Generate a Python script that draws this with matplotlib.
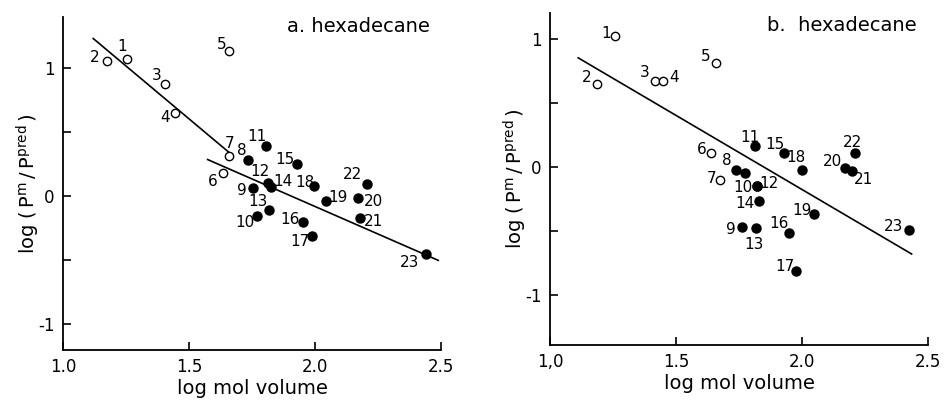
import matplotlib
matplotlib.use("Agg")
import matplotlib.pyplot as plt

# ---------------- data: panel a ----------------
a_open_ids = ["1", "2", "3", "4", "5", "6", "7"]
a_open_x = [1.253, 1.173, 1.405, 1.444, 1.660, 1.636, 1.660]
a_open_y = [1.070, 1.060, 0.880, 0.650, 1.135, 0.185, 0.315]

a_fill_ids = ["8", "9", "10", "11", "12", "13", "14", "15", "16", "17", "18",
              "19", "20", "21", "22", "23"]
a_fill_x = [1.733, 1.755, 1.768, 1.806, 1.812, 1.819, 1.824, 1.927, 1.951,
            1.990, 1.996, 2.044, 2.169, 2.179, 2.208, 2.439]
a_fill_y = [0.280, 0.068, -0.156, 0.393, 0.105, -0.104, 0.073, 0.250, -0.200,
            -0.310, 0.080, -0.037, -0.010, -0.170, 0.099, -0.453]

a_line1_x = [1.120, 1.663]
a_line1_y = [1.232, 0.336]
a_line2_x = [1.574, 2.489]
a_line2_y = [0.287, -0.500]

# ---------------- data: panel b ----------------
b_open_ids = ["1", "2", "3", "4", "5", "6", "7"]
b_open_x = [1.258, 1.188, 1.417, 1.450, 1.659, 1.638, 1.675]
b_open_y = [1.020, 0.644, 0.669, 0.669, 0.807, 0.111, -0.101]

b_fill_ids = ["8", "", "9", "10", "11", "12", "13", "14", "15", "16", "17",
              "18", "19", "20", "21", "22", "23"]
b_fill_x = [1.738, 1.775, 1.760, 1.820, 1.813, 1.820, 1.817, 1.828, 1.929,
            1.947, 1.976, 1.999, 2.049, 2.171, 2.200, 2.210, 2.425]
b_fill_y = [-0.026, -0.049, -0.472, -0.153, 0.163, -0.153, -0.480, -0.270,
            0.104, -0.514, -0.810, -0.023, -0.368, -0.013, -0.036, 0.104,
            -0.493]

b_line_x = [1.112, 2.435]
b_line_y = [0.850, -0.680]

x_ticks = [1.0, 1.5, 2.0, 2.5]
x_ticklabels = ["1.0", "1.5", "2.0", "2.5"]
b_x_ticklabels = ["1,0", "1.5", "2.0", "2.5"]
y_ticks = [-1.0, -0.5, 0.0, 0.5, 1.0]
y_ticklabels = ["-1", "", "0", "", "1"]

# label offsets (pixels, y up) -- layout only
a_open_off = {"1": (-5, 13), "2": (-12, 3), "3": (-8, 8), "4": (-10, -4),
              "5": (-8, 6), "6": (-11, -9), "7": (0, 12)}
a_fill_off = {"8": (-6, 10), "9": (-11, -3), "10": (-12, -6), "11": (-9, 9),
              "12": (-8, 11), "13": (-11, 8), "14": (12, 5), "15": (-12, 5),
              "16": (-13, 2), "17": (-13, -5), "18": (-9, 4), "19": (12, 4),
              "20": (16, -4), "21": (13, -3), "22": (-15, 9), "23": (-16, -8)}
b_open_off = {"1": (-9, 3), "2": (-11, 7), "3": (-10, 9), "4": (11, 4),
              "5": (-10, 7), "6": (-9, 3), "7": (-9, 1)}
b_fill_off = {"8": (-9, 10), "": (0, 0), "9": (-11, -2), "10": (-14, -1),
              "11": (-5, 8), "12": (12, 3), "13": (-2, -16), "14": (-14, -2),
              "15": (-9, 9), "16": (-10, 9), "17": (-11, 4), "18": (-6, 12),
              "19": (-12, 3), "20": (-13, 7), "21": (11, -8), "22": (-2, 11),
              "23": (-16, 4)}

plt.rcParams['font.family'] = ['DejaVu Sans']

fig = plt.figure(figsize=(9.44, 4.0), dpi=100)
axa = fig.add_axes([63 / 944, 1 - 350 / 400, (441 - 63) / 944, (350 - 17) / 400])
axb = fig.add_axes([550 / 944, 1 - 345 / 400, (928 - 550) / 944, (345 - 13) / 400])

ylabel = r"log $(\,\mathrm{P}^{\mathrm{m}}\,/\,\mathrm{P}^{\mathrm{pred}}\,)$"


def draw(ax, ox, oy, oids, fx, fy, fids, ooff, foff, title, xtl, ty):
    ax.plot(ox, oy, linestyle="none", marker="o", markersize=6,
            markerfacecolor="white", markeredgecolor="black",
            markeredgewidth=1.0, zorder=3)
    ax.plot(fx, fy, linestyle="none", marker="o", markersize=6.5,
            markerfacecolor="black", markeredgecolor="black", zorder=3)
    for i, x, y in zip(oids, ox, oy):
        if i:
            ax.annotate(i, (x, y), xytext=ooff[i], textcoords="offset pixels",
                        ha="center", va="center", fontsize=11)
    for i, x, y in zip(fids, fx, fy):
        if i:
            ax.annotate(i, (x, y), xytext=foff[i], textcoords="offset pixels",
                        ha="center", va="center", fontsize=11)
    for s in ["top", "right"]:
        ax.spines[s].set_visible(False)
    for s in ["left", "bottom"]:
        ax.spines[s].set_linewidth(1.3)
    ax.set_xlim(1.0, 2.5)
    ax.set_xticks(x_ticks)
    ax.set_xticklabels(xtl, fontsize=12)
    ax.set_yticks(y_ticks)
    ax.set_yticklabels(y_ticklabels, fontsize=12)
    ax.tick_params(direction="in", length=6, width=1.2, pad=6)
    ax.set_xlabel("log mol volume", fontsize=14, labelpad=2)
    ax.set_ylabel(ylabel, fontsize=14, labelpad=-3)
    ax.text(0.97, ty, title, transform=ax.transAxes, ha="right", va="top",
            fontsize=14)


draw(axa, a_open_x, a_open_y, a_open_ids, a_fill_x, a_fill_y, a_fill_ids,
     a_open_off, a_fill_off, "a. hexadecane", x_ticklabels, 1.0)
axa.plot(a_line1_x, a_line1_y, color="black", lw=1.2)
axa.plot(a_line2_x, a_line2_y, color="black", lw=1.2)
axa.set_ylim(-1.2, 1.4)

draw(axb, b_open_x, b_open_y, b_open_ids, b_fill_x, b_fill_y, b_fill_ids,
     b_open_off, b_fill_off, "b.  hexadecane", b_x_ticklabels, 0.99)
axb.plot(b_line_x, b_line_y, color="black", lw=1.2)
axb.set_ylim(-1.39, 1.2)

fig.savefig("out.png", dpi=100)
